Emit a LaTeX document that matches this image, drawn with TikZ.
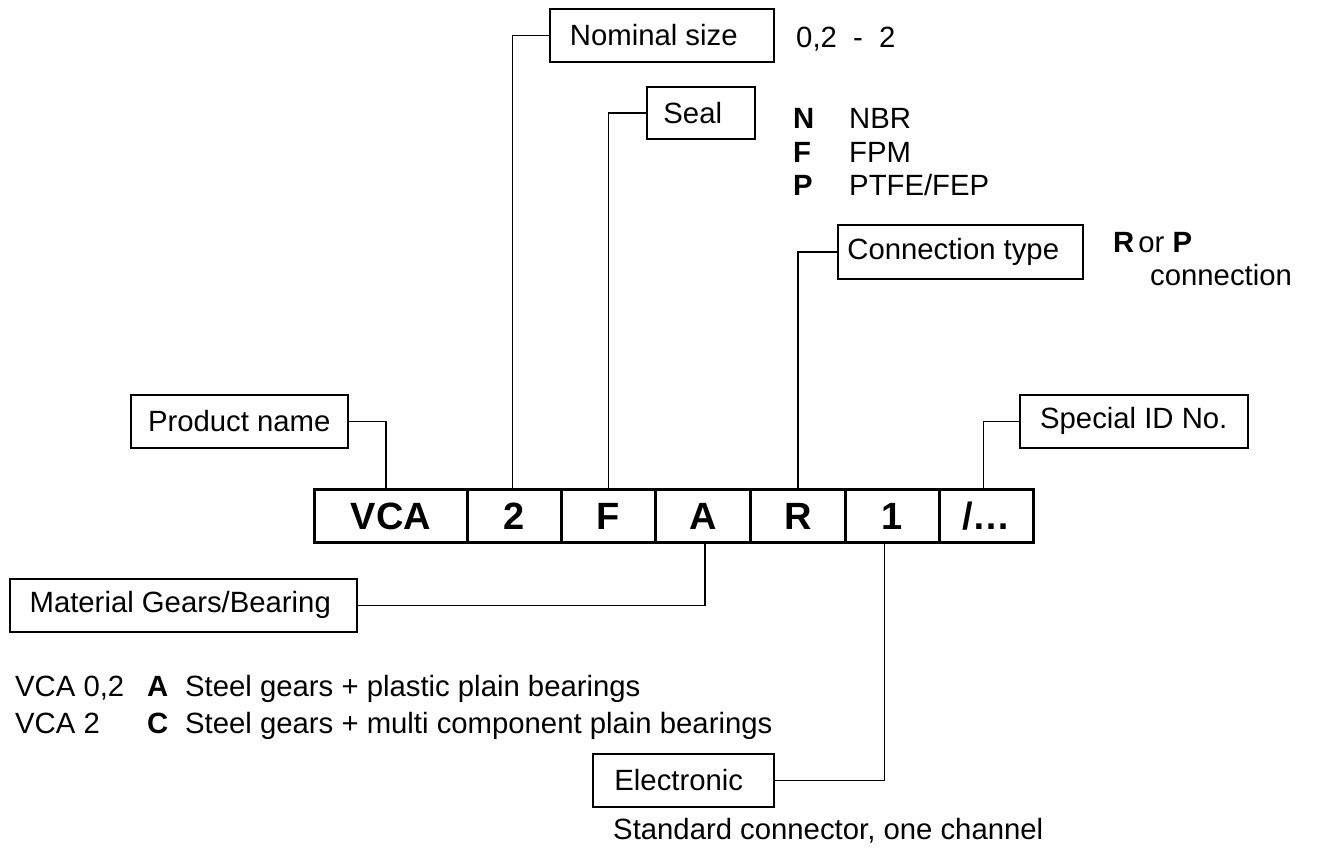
\documentclass[tikz,border=0pt]{standalone}
\usepackage{fontspec}
\setmainfont{Liberation Sans}
\begin{document}
\begin{tikzpicture}[x=1pt,y=-1pt,
  lbl/.style={draw, line width=1.5pt, anchor=north west, inner sep=0pt, minimum height=53pt,
     font=\fontsize{29.3}{34}\selectfont},
  cell/.style={draw, line width=3pt, anchor=north west, minimum height=53pt, inner sep=0pt,
     font=\fontsize{38}{44}\selectfont\bfseries},
  txt/.style={anchor=base west, inner sep=0pt, font=\fontsize{29.3}{34}\selectfont},
  conn/.style={line width=1.5pt}]
\useasboundingbox (0,0) rectangle (1327,847);
% code strip
\node[cell, minimum width=153pt] (c1) at (313,488) {VCA};
\node[cell, minimum width=94pt] (c2) at (466,488) {2};
\node[cell, minimum width=94pt] (c3) at (560,488) {F};
\node[cell, minimum width=95pt] (c4) at (654,488) {A};
\node[cell, minimum width=95pt] (c5) at (749,488) {R};
\node[cell, minimum width=94pt] (c6) at (844,488) {1};
\node[cell, minimum width=94pt] (c7) at (938,488) {/\ldots};
% label boxes
\node[lbl, minimum width=224pt] (nom) at (549,8) {\hspace*{-16pt}Nominal size};
\node[lbl, minimum width=108pt, minimum height=52pt] (seal) at (646,86) {\hspace*{-16pt}Seal};
\node[lbl, minimum width=245pt, minimum height=54pt] (con) at (837,224) {\hspace*{-14pt}Connection type};
\node[lbl, minimum width=217pt] (prod) at (130,394) {Product name};
\node[lbl, minimum width=228pt] (spec) at (1019,394) {Special ID No.};
\node[lbl, minimum width=347pt] (mat) at (9,578) {\hspace*{-6pt}Material Gears/Bearing};
\node[lbl, minimum width=181pt] (elec) at (592,753) {\hspace*{-9pt}Electronic};
% connectors
\draw[conn] (prod.east) -| ([xshift=-5pt]c1.north);
\draw[conn] (nom.west) -| ([xshift=-2pt]c2.north);
\draw[conn] (seal.west) -| (c3.north);
\draw[conn] (con.west) -| (c5.north);
\draw[conn] (spec.west) -| ([xshift=-3pt]c7.north);
\draw[conn] (mat.east) -| ([xshift=2pt]c4.south);
\draw[conn] (elec.east) -| ([xshift=-8pt]c6.south);
% descriptive texts
\node[txt] (t02) at (796,47) {0,2\ \ -\ \ 2};
\node[txt] (tn) at (793,128) {\textbf{N}};
\node[txt] (tnbr) at (849,128) {NBR};
\node[txt] (tf) at (793,162) {\textbf{F}};
\node[txt] (tfpm) at (849,162) {FPM};
\node[txt] (tp) at (793,195) {\textbf{P}};
\node[txt] (tptfe) at (849,195) {PTFE/FEP};
\node[txt] (tr) at (1113,252) {\textbf{R}\hspace{4pt}or \textbf{P}};
\node[txt] (tconn) at (1150,285) {connection};
\node[txt] (v1) at (15,696) {VCA 0,2};
\node[txt] (v1a) at (147,696) {\textbf{A}};
\node[txt] (v1t) at (185,696) {Steel gears + plastic plain bearings};
\node[txt] (v2) at (15,733) {VCA 2};
\node[txt] (v2c) at (147,733) {\textbf{C}};
\node[txt] (v2t) at (185,733) {Steel gears + multi component plain bearings};
\node[txt] (std) at (613,839) {Standard connector, one channel};
\end{tikzpicture}
\end{document}
